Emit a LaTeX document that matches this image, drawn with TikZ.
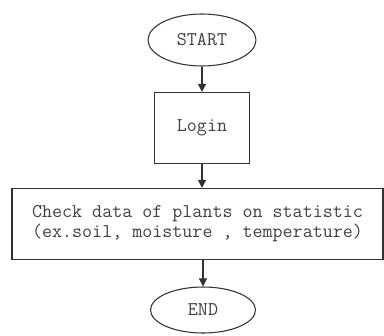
\documentclass[tikz,border=0pt]{standalone}
\usetikzlibrary{shapes.geometric,arrows.meta}
\begin{document}
\begin{tikzpicture}[x=0.75pt,y=-0.75pt,
  every node/.style={font=\ttfamily\fontsize{14.6pt}{15pt}\selectfont, text=black!75, inner sep=0pt},
  term/.style={ellipse, draw=black!80, line width=0.8pt},
  procbox/.style={rectangle, draw=black!80, line width=0.9pt, align=center},
  flow/.style={draw=black!80, line width=0.9pt, -{Triangle[length=6pt,width=6pt]}}]
\useasboundingbox (0,0) rectangle (384,335);
\node[term, minimum width=108*0.75pt, minimum height=52*0.75pt] (start) at (202,40) {START};
\node[procbox, minimum width=95*0.75pt, minimum height=71*0.75pt] (login) at (202,128) {Login};
\node[procbox, minimum width=371*0.75pt, minimum height=71*0.75pt] (check) at (197.5,224)
  {Check data of plants on statistic\\(ex.soil, moisture , temperature)};
\node[term, minimum width=105*0.75pt, minimum height=46*0.75pt] (end) at (203,310) {END};
\draw[flow] (start) -- (login);
\draw[flow] (login.south) -- (login.south |- check.north);
\draw[flow] (check.south -| end.north) -- (end);
\end{tikzpicture}
\end{document}
